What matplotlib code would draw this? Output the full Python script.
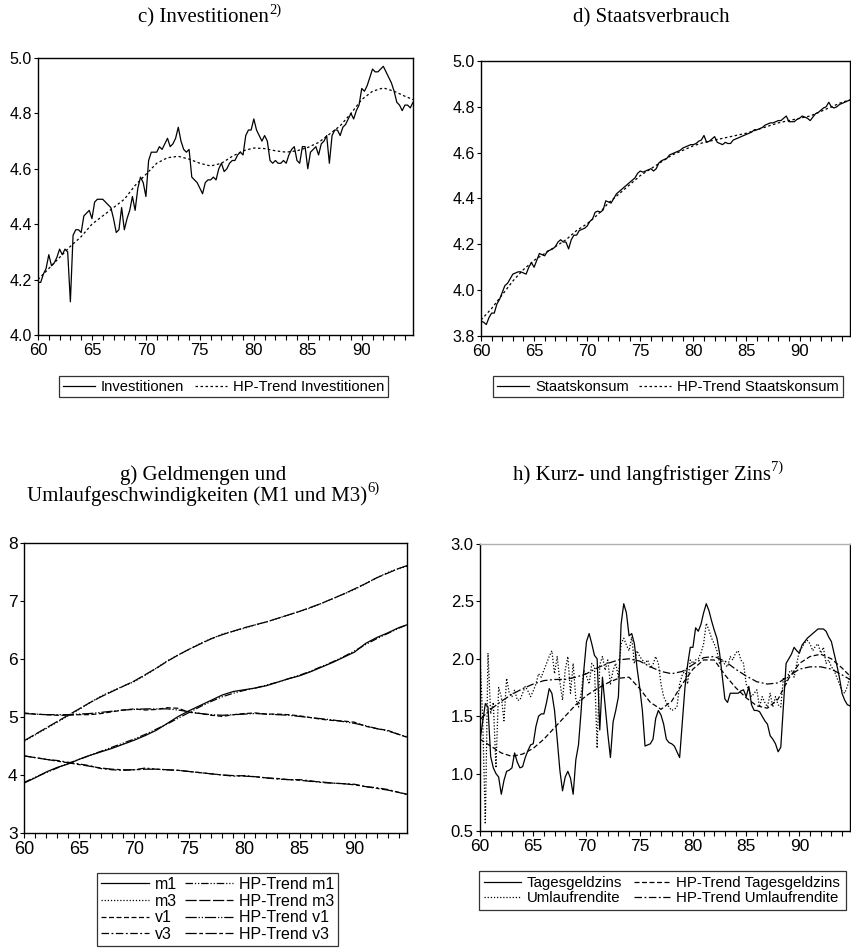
import numpy as np
import matplotlib
matplotlib.use("Agg")
import matplotlib.pyplot as plt
from matplotlib.lines import Line2D

plt.rcParams["font.family"] = ["Liberation Sans", "DejaVu Sans"]

# ---------------- data ----------------
quarters = 60 + np.arange(140) / 4.0          # 1960Q1 .. 1994Q4
years = list(range(60, 95)) + [94.75]         # annual points for trends

investitionen = [
    4.19, 4.19, 4.22, 4.24, 4.29, 4.25, 4.26, 4.28, 4.31, 4.29, 4.31, 4.30,
    4.12, 4.36, 4.38, 4.38, 4.37, 4.43, 4.44, 4.45, 4.42, 4.48, 4.49, 4.49,
    4.49, 4.48, 4.47, 4.46, 4.42, 4.37, 4.38, 4.46, 4.38, 4.42, 4.45, 4.50,
    4.45, 4.53, 4.57, 4.55, 4.50, 4.63, 4.66, 4.66, 4.66, 4.68, 4.67, 4.69,
    4.71, 4.68, 4.69, 4.71, 4.75, 4.70, 4.67, 4.66, 4.67, 4.57, 4.56, 4.55,
    4.53, 4.51, 4.55, 4.56, 4.56, 4.57, 4.56, 4.60, 4.62, 4.59, 4.60, 4.62,
    4.63, 4.63, 4.65, 4.66, 4.65, 4.72, 4.74, 4.74, 4.78, 4.74, 4.72, 4.70,
    4.72, 4.70, 4.63, 4.62, 4.63, 4.62, 4.62, 4.63, 4.62, 4.65, 4.67, 4.68,
    4.63, 4.62, 4.68, 4.68, 4.60, 4.66, 4.67, 4.68, 4.65, 4.69, 4.70, 4.72,
    4.62, 4.72, 4.74, 4.74, 4.72, 4.75, 4.76, 4.78, 4.80, 4.78, 4.81, 4.83,
    4.89, 4.88, 4.90, 4.93, 4.96, 4.95, 4.95, 4.96, 4.97, 4.95, 4.93, 4.91,
    4.88, 4.84, 4.83, 4.81, 4.83, 4.83, 4.82, 4.84,
]
hp_investitionen = [
    4.20, 4.24, 4.28, 4.32, 4.355, 4.40, 4.43, 4.46, 4.49, 4.54, 4.58, 4.62,
    4.64, 4.645, 4.635, 4.62, 4.61, 4.62, 4.645, 4.665, 4.675, 4.673, 4.665,
    4.66, 4.665, 4.677, 4.695, 4.725, 4.755, 4.80, 4.85, 4.88, 4.892, 4.88,
    4.862, 4.85,
]

staatskonsum = [
    3.865, 3.86, 3.85, 3.88, 3.90, 3.90, 3.94, 3.96, 3.99, 4.02, 4.03, 4.05,
    4.07, 4.075, 4.08, 4.08, 4.075, 4.07, 4.10, 4.12, 4.10, 4.13, 4.16, 4.155,
    4.15, 4.17, 4.175, 4.18, 4.19, 4.21, 4.22, 4.21, 4.21, 4.18, 4.22, 4.24,
    4.24, 4.26, 4.265, 4.27, 4.28, 4.30, 4.31, 4.34, 4.345, 4.34, 4.35, 4.39,
    4.385, 4.38, 4.40, 4.42, 4.43, 4.44, 4.45, 4.46, 4.47, 4.48, 4.49, 4.51,
    4.52, 4.515, 4.52, 4.525, 4.53, 4.52, 4.53, 4.555, 4.565, 4.57, 4.575, 4.59,
    4.595, 4.60, 4.605, 4.61, 4.62, 4.625, 4.63, 4.635, 4.635, 4.64, 4.65, 4.655,
    4.675, 4.645, 4.65, 4.66, 4.67, 4.645, 4.64, 4.635, 4.645, 4.64, 4.64, 4.655,
    4.66, 4.665, 4.67, 4.675, 4.68, 4.685, 4.69, 4.70, 4.70, 4.705, 4.71, 4.72,
    4.725, 4.73, 4.73, 4.735, 4.74, 4.74, 4.75, 4.76, 4.735, 4.735, 4.735, 4.745,
    4.75, 4.76, 4.755, 4.75, 4.74, 4.755, 4.77, 4.775, 4.785, 4.795, 4.80, 4.82,
    4.80, 4.795, 4.80, 4.81, 4.815, 4.82, 4.825, 4.83,
]
hp_staatskonsum = [
    3.87, 3.92, 3.98, 4.04, 4.09, 4.13, 4.16, 4.19, 4.22, 4.26, 4.29, 4.33,
    4.38, 4.42, 4.46, 4.50, 4.53, 4.56, 4.59, 4.61, 4.63, 4.645, 4.655, 4.665,
    4.675, 4.685, 4.70, 4.715, 4.73, 4.74, 4.75, 4.76, 4.78, 4.80, 4.82, 4.83,
]

m1 = [3.86, 3.95, 4.05, 4.13, 4.19, 4.27, 4.34, 4.40, 4.46, 4.53, 4.60, 4.68,
      4.77, 4.89, 5.01, 5.11, 5.20, 5.29, 5.38, 5.44, 5.47, 5.50, 5.54, 5.60,
      5.66, 5.71, 5.78, 5.86, 5.94, 6.03, 6.12, 6.27, 6.37, 6.45, 6.54, 6.59]
m3 = [4.58, 4.69, 4.80, 4.91, 5.02, 5.13, 5.25, 5.36, 5.45, 5.53, 5.61, 5.72,
      5.84, 5.97, 6.07, 6.17, 6.27, 6.35, 6.43, 6.48, 6.53, 6.59, 6.64, 6.70,
      6.76, 6.82, 6.88, 6.96, 7.04, 7.12, 7.20, 7.30, 7.40, 7.49, 7.56, 7.60]
v1 = [5.07, 5.05, 5.04, 5.03, 5.03, 5.04, 5.04, 5.06, 5.09, 5.12, 5.14, 5.12,
      5.13, 5.16, 5.15, 5.08, 5.06, 5.03, 5.01, 5.04, 5.06, 5.07, 5.05, 5.05,
      5.04, 5.02, 4.99, 4.96, 4.94, 4.93, 4.91, 4.84, 4.80, 4.77, 4.70, 4.65]
v3 = [4.33, 4.30, 4.27, 4.25, 4.22, 4.19, 4.16, 4.11, 4.09, 4.08, 4.09, 4.12,
      4.10, 4.09, 4.08, 4.06, 4.04, 4.02, 4.00, 3.98, 3.99, 3.97, 3.95, 3.93,
      3.92, 3.92, 3.90, 3.87, 3.86, 3.85, 3.84, 3.80, 3.78, 3.75, 3.70, 3.66]
hp_m1 = [3.87, 3.96, 4.04, 4.12, 4.20, 4.27, 4.34, 4.41, 4.48, 4.55, 4.62, 4.70,
         4.79, 4.88, 4.98, 5.08, 5.18, 5.27, 5.35, 5.41, 5.46, 5.50, 5.55, 5.60,
         5.66, 5.72, 5.79, 5.87, 5.95, 6.04, 6.14, 6.25, 6.35, 6.44, 6.53, 6.59]
hp_m3 = [4.59, 4.70, 4.81, 4.92, 5.03, 5.14, 5.25, 5.35, 5.44, 5.53, 5.62, 5.73,
         5.84, 5.96, 6.07, 6.17, 6.26, 6.35, 6.42, 6.48, 6.54, 6.59, 6.64, 6.70,
         6.76, 6.82, 6.89, 6.96, 7.04, 7.12, 7.21, 7.30, 7.40, 7.48, 7.56, 7.61]
hp_v1 = [5.06, 5.05, 5.04, 5.04, 5.04, 5.05, 5.06, 5.08, 5.10, 5.12, 5.13, 5.14,
         5.14, 5.14, 5.12, 5.09, 5.06, 5.04, 5.03, 5.04, 5.05, 5.06, 5.05, 5.04,
         5.03, 5.01, 4.99, 4.97, 4.95, 4.92, 4.89, 4.85, 4.80, 4.76, 4.70, 4.66]
hp_v3 = [4.33, 4.30, 4.27, 4.24, 4.21, 4.18, 4.15, 4.12, 4.10, 4.09, 4.09, 4.10,
         4.10, 4.09, 4.08, 4.06, 4.04, 4.02, 4.00, 3.99, 3.98, 3.97, 3.95, 3.94,
         3.92, 3.91, 3.89, 3.88, 3.86, 3.85, 3.83, 3.80, 3.77, 3.74, 3.70, 3.67]

tagesgeldzins = [
    1.29, 1.45, 1.61, 1.58, 1.15, 1.05, 1.00, 0.97, 0.82, 0.94, 1.02, 1.03,
    1.05, 1.18, 1.10, 1.05, 1.06, 1.14, 1.20, 1.25, 1.26, 1.41, 1.50, 1.52,
    1.52, 1.62, 1.74, 1.70, 1.55, 1.30, 1.03, 0.85, 0.97, 1.02, 0.96, 0.82,
    1.12, 1.25, 1.55, 1.90, 2.15, 2.22, 2.13, 2.03, 2.00, 1.38, 1.84, 1.60,
    1.35, 1.14, 1.45, 1.55, 1.67, 2.30, 2.48, 2.40, 2.20, 2.22, 2.13, 1.92,
    1.75, 1.55, 1.24, 1.25, 1.26, 1.30, 1.48, 1.55, 1.51, 1.43, 1.30, 1.27,
    1.26, 1.24, 1.19, 1.14, 1.45, 1.75, 1.95, 2.10, 2.10, 2.27, 2.24, 2.30,
    2.40, 2.48, 2.42, 2.33, 2.25, 2.18, 2.05, 1.85, 1.65, 1.62, 1.70, 1.70,
    1.70, 1.70, 1.72, 1.73, 1.67, 1.76, 1.60, 1.55, 1.55, 1.54, 1.50, 1.46,
    1.43, 1.33, 1.30, 1.26, 1.19, 1.23, 1.60, 1.96, 2.00, 2.04, 2.10, 2.07,
    2.05, 2.12, 2.15, 2.18, 2.20, 2.22, 2.24, 2.26, 2.26, 2.26, 2.24, 2.19,
    2.15, 2.05, 1.95, 1.84, 1.70, 1.64, 1.60, 1.59,
]
umlaufrendite = [
    2.02, 1.49, 0.56, 2.05, 1.52, 1.62, 1.05, 1.75, 1.67, 1.46, 1.83, 1.70,
    1.67, 1.73, 1.64, 1.64, 1.70, 1.76, 1.72, 1.67, 1.72, 1.78, 1.87, 1.84,
    1.90, 1.96, 2.02, 2.07, 1.87, 2.02, 1.80, 1.64, 1.90, 2.02, 1.70, 1.96,
    1.65, 1.58, 1.70, 1.90, 1.85, 1.78, 1.96, 1.93, 1.22, 1.95, 2.02, 1.90,
    1.99, 1.78, 1.90, 1.96, 1.84, 2.13, 2.18, 2.12, 2.07, 2.19, 1.96, 2.07,
    2.02, 1.99, 1.96, 1.99, 1.92, 1.95, 2.02, 1.96, 1.78, 1.67, 1.62, 1.58,
    1.55, 1.56, 1.58, 1.78, 1.86, 1.90, 1.78, 1.99, 1.96, 1.99, 2.00, 2.05,
    2.13, 2.31, 2.25, 2.18, 2.13, 2.07, 1.96, 1.99, 1.95, 1.93, 2.02, 1.99,
    2.05, 2.07, 1.99, 1.96, 1.78, 1.73, 1.67, 1.70, 1.73, 1.58, 1.67, 1.62,
    1.58, 1.70, 1.58, 1.67, 1.60, 1.58, 1.84, 1.78, 1.88, 1.90, 1.84, 1.96,
    2.07, 2.10, 2.14, 2.16, 2.13, 2.07, 2.11, 2.13, 2.05, 2.10, 1.96, 1.99,
    1.93, 1.90, 1.84, 1.78, 1.72, 1.70, 1.76, 1.85,
]
hp_tagesgeldzins = [
    1.30, 1.24, 1.18, 1.15, 1.17, 1.22, 1.30, 1.40, 1.50, 1.60, 1.68, 1.74,
    1.79, 1.83, 1.84, 1.74, 1.62, 1.56, 1.63, 1.78, 1.91, 1.99, 1.99, 1.86,
    1.75, 1.66, 1.59, 1.57, 1.65, 1.83, 1.96, 2.02, 2.04, 2.00, 1.92, 1.85,
]
hp_umlaufrendite = [
    1.47, 1.56, 1.63, 1.69, 1.74, 1.78, 1.81, 1.82, 1.82, 1.84, 1.87, 1.92,
    1.96, 1.99, 2.00, 1.98, 1.93, 1.89, 1.87, 1.89, 1.95, 2.01, 2.02, 1.98,
    1.91, 1.85, 1.80, 1.78, 1.79, 1.85, 1.91, 1.93, 1.93, 1.91, 1.86, 1.82,
]

# ---------------- figure ----------------
W, H = 851, 951
fig = plt.figure(figsize=(W / 100, H / 100), dpi=100)


def add_axes_px(left, top, right, bottom):
    return fig.add_axes([left / W, 1 - bottom / H, (right - left) / W, (bottom - top) / H])


def style_axes(ax, ylim, yticks, yfmt, ysize, xsize):
    ax.set_xlim(60, 94.75)
    ax.set_ylim(*ylim)
    ax.set_xticks(range(60, 95, 5))
    ax.set_xticks(range(60, 95), minor=True)
    ax.set_yticks(yticks)
    ax.set_yticklabels([yfmt.format(v) for v in yticks], fontsize=ysize)
    ax.set_xticklabels([str(v) for v in range(60, 95, 5)], fontsize=xsize)
    ax.tick_params(axis="both", which="both", direction="out", width=0.8,
                   color="black")
    ax.tick_params(axis="x", which="both", length=3.5, pad=2.5)
    ax.tick_params(axis="y", which="major", length=3, pad=1.5)
    for s in ax.spines.values():
        s.set_linewidth(1.0)
        s.set_color("black")


LW = 0.9
serif = ["Liberation Serif", "DejaVu Serif"]
TSIZE = 15


def title(x, y, text, sup=None):
    t = fig.text(x / W, 1 - y / H, text, fontsize=TSIZE, family=serif,
                 ha="center", va="center")
    if sup:
        s = fig.text(0, 0, sup, fontsize=10.5, family=serif, ha="left", va="top")
        fig.canvas.draw()
        sw = s.get_window_extent().width
        # shift the main text so that text and superscript stay centred together
        t.set_position(((x - sw / 2) / W, 1 - y / H))
        fig.canvas.draw()
        bb = t.get_window_extent()
        s.set_position(((bb.x1 + 0.5) / W, (bb.y1 + 5) / H))


def legend(handles, labels, x, y, size, hl, cs, ls=0.15, bp=0.25):
    leg = fig.legend(handles, labels, ncol=2, loc="upper left",
                     bbox_to_anchor=(x / W, 1 - y / H), fontsize=size,
                     frameon=True, fancybox=False, edgecolor="black",
                     handlelength=hl, handletextpad=0.4, columnspacing=cs,
                     labelspacing=ls, borderpad=bp, borderaxespad=0)
    leg.get_frame().set_linewidth(0.9)
    return leg


# ---- c) Investitionen ----
ax_c = add_axes_px(38, 58, 413, 335)
ax_c.plot(quarters, investitionen, color="black", lw=LW)
ax_c.plot(years, hp_investitionen, color="black", lw=LW, ls=(0, (2, 2)))
style_axes(ax_c, (4.0, 5.0), [4.0, 4.2, 4.4, 4.6, 4.8, 5.0], "{:.1f}", 11.5, 12)
title(209, 18, "c) Investitionen", "2)")
legend([Line2D([], [], color="black", lw=LW),
        Line2D([], [], color="black", lw=LW, ls=(0, (2, 2)))],
       ["Investitionen", "HP-Trend Investitionen"], 59, 376, 10.6, 2.2, 0.7)

# ---- d) Staatsverbrauch ----
ax_d = add_axes_px(481, 61, 850, 336)
ax_d.plot(quarters, staatskonsum, color="black", lw=LW)
ax_d.plot(years, hp_staatskonsum, color="black", lw=LW, ls=(0, (2, 2)))
style_axes(ax_d, (3.8, 5.0), [3.8, 4.0, 4.2, 4.4, 4.6, 4.8, 5.0], "{:.1f}", 11.5, 12)
title(651, 18, "d) Staatsverbrauch")
legend([Line2D([], [], color="black", lw=LW),
        Line2D([], [], color="black", lw=LW, ls=(0, (2, 2)))],
       ["Staatskonsum", "HP-Trend Staatskonsum"], 493, 376, 10.6, 2.2, 0.7)

# ---- g) Geldmengen und Umlaufgeschwindigkeiten ----
ax_g = add_axes_px(24, 543, 407, 833)
g_styles = {
    "m1": "-",
    "m3": (0, (1, 1.5)),
    "v1": (0, (4, 2)),
    "v3": (0, (6, 2, 1.5, 2)),
    "HP-Trend m1": (0, (6, 1.5, 1, 1.5, 1, 1.5)),
    "HP-Trend m3": (0, (9, 2)),
    "HP-Trend v1": (0, (9, 1.5, 1, 1.5, 1, 1.5)),
    "HP-Trend v3": (0, (9, 2, 3, 2)),
}
g_series = [("m1", m1), ("m3", m3), ("v1", v1), ("v3", v3),
            ("HP-Trend m1", hp_m1), ("HP-Trend m3", hp_m3),
            ("HP-Trend v1", hp_v1), ("HP-Trend v3", hp_v3)]
for name, vals in g_series:
    ax_g.plot(years, vals, color="black", lw=LW, ls=g_styles[name])
style_axes(ax_g, (3, 8), [3, 4, 5, 6, 7, 8], "{:d}", 12.5, 13)
fig.text(203 / W, 1 - 475 / H, "g) Geldmengen und", fontsize=TSIZE, family=serif,
         ha="center", va="center")
title(203, 496, "Umlaufgeschwindigkeiten (M1 und M3)", "6)")
legend([Line2D([], [], color="black", lw=LW, ls=g_styles[n]) for n, _ in g_series],
       [n for n, _ in g_series], 97, 873, 11.5, 3.0, 0.45, ls=0.1)

# ---- h) Kurz- und langfristiger Zins ----
ax_h = add_axes_px(480, 544, 850, 831)
h_styles = ["-", (0, (1, 1.5)), (0, (4, 2)), (0, (6, 2, 1.5, 2))]
ax_h.plot(quarters, tagesgeldzins, color="black", lw=LW, ls=h_styles[0])
ax_h.plot(quarters, umlaufrendite, color="black", lw=LW, ls=h_styles[1])
ax_h.plot(years, hp_tagesgeldzins, color="black", lw=LW, ls=h_styles[2])
ax_h.plot(years, hp_umlaufrendite, color="black", lw=LW, ls=h_styles[3])
style_axes(ax_h, (0.5, 3.0), [0.5, 1.0, 1.5, 2.0, 2.5, 3.0], "{:.1f}", 12, 12.5)
ax_h.spines["top"].set_color("#b0b0b0")
title(648, 475, "h) Kurz- und langfristiger Zins", "7)")
legend([Line2D([], [], color="black", lw=LW, ls=s) for s in h_styles],
       ["Tagesgeldzins", "Umlaufrendite",
        "HP-Trend Tagesgeldzins", "HP-Trend Umlaufrendite"],
       479, 871, 10.8, 2.45, 0.75, ls=0.05, bp=0.35)

fig.savefig("out.png", dpi=100)
